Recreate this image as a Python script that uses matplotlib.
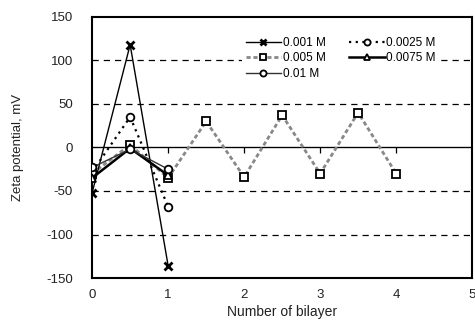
import matplotlib

matplotlib.use("Agg")
import matplotlib.pyplot as plt

plt.rcParams.update({
    "font.family": ["Liberation Sans", "DejaVu Sans"],
    "font.size": 9,
    "axes.unicode_minus": False,
})

bilayer_short = [0, 0.5, 1]
bilayer_long = [0, 0.5, 1, 1.5, 2, 2.5, 3, 3.5, 4]

zeta_0001 = [-52, 118, -136]
zeta_00025 = [-28, 35, -68]
zeta_0005 = [-30, 3, -35, 30, -34, 37, -30, 40, -30]
zeta_00075 = [-35, -1, -32]
zeta_001 = [-23, -2, -25]

y_ticks = [-150, -100, -50, 0, 50, 100, 150]
grid_levels = [-100, -50, 50, 100]

fig = plt.figure(figsize=(4.75, 3.31), dpi=100)
ax = fig.add_axes([0.194, 0.16, 0.8, 0.789])

for lv in grid_levels:
    ax.axhline(lv, color="black", ls=(0, (5, 4)), lw=0.9, zorder=1)
ax.axhline(0, color="black", lw=0.9, zorder=1)

mk = dict(mfc="white", mec="black", mew=1.3, ms=5.5)
l1, = ax.plot(bilayer_short, zeta_0001, color="black", lw=1.0, marker="x",
              ms=5.5, mew=2, mec="black", label="0.001 M", zorder=4)
l2, = ax.plot(bilayer_short, zeta_00025, color="black", lw=1.6, ls=(0, (1, 2)),
              marker="o", label="0.0025 M", zorder=3, **mk)
l3, = ax.plot(bilayer_long, zeta_0005, color="#888888", lw=2.0, ls=(0, (1.5, 1)),
              marker="s", label="0.005 M", zorder=2, **mk)
l4, = ax.plot(bilayer_short, zeta_00075, color="black", lw=1.8, marker="^",
              label="0.0075 M", zorder=3, **mk)
l5, = ax.plot(bilayer_short, zeta_001, color="#333333", lw=1.0, marker="o",
              label="0.01 M", zorder=5, **mk)

ax.set_xlim(0, 5)
ax.set_ylim(-150, 150)
ax.set_yticks(y_ticks)
ax.set_xticks(range(6))
ax.tick_params(axis="y", length=0, labelsize=9.5, colors="#222222", pad=14)
ax.tick_params(axis="x", length=0, labelsize=9.5, colors="#222222", pad=8)
for s in ax.spines.values():
    s.set_linewidth(1.5)

sec = ax.secondary_xaxis(0.5)
sec.set_xticks(range(1, 5))
sec.xaxis.set_ticklabels([])
sec.tick_params(direction="in", length=4, width=0.9)
sec.spines["bottom"].set_visible(False)

ax.set_xlabel("Number of bilayer", fontsize=10, color="#222222", labelpad=3)
ax.set_ylabel("Zeta potential, mV", fontsize=9.5, color="#222222", labelpad=16)

leg = ax.legend(handles=[l1, l3, l5, l2, l4], ncol=2, loc="upper left",
                bbox_to_anchor=(0.379, 0.96), frameon=True, fancybox=False,
                framealpha=1, facecolor="white", edgecolor="none",
                fontsize=8.5, handlelength=3.0, handletextpad=0.15,
                columnspacing=2.0, labelspacing=0.3, markerscale=0.8,
                borderpad=0.3)
leg.set_zorder(6)

fig.savefig("out.png", dpi=100)
